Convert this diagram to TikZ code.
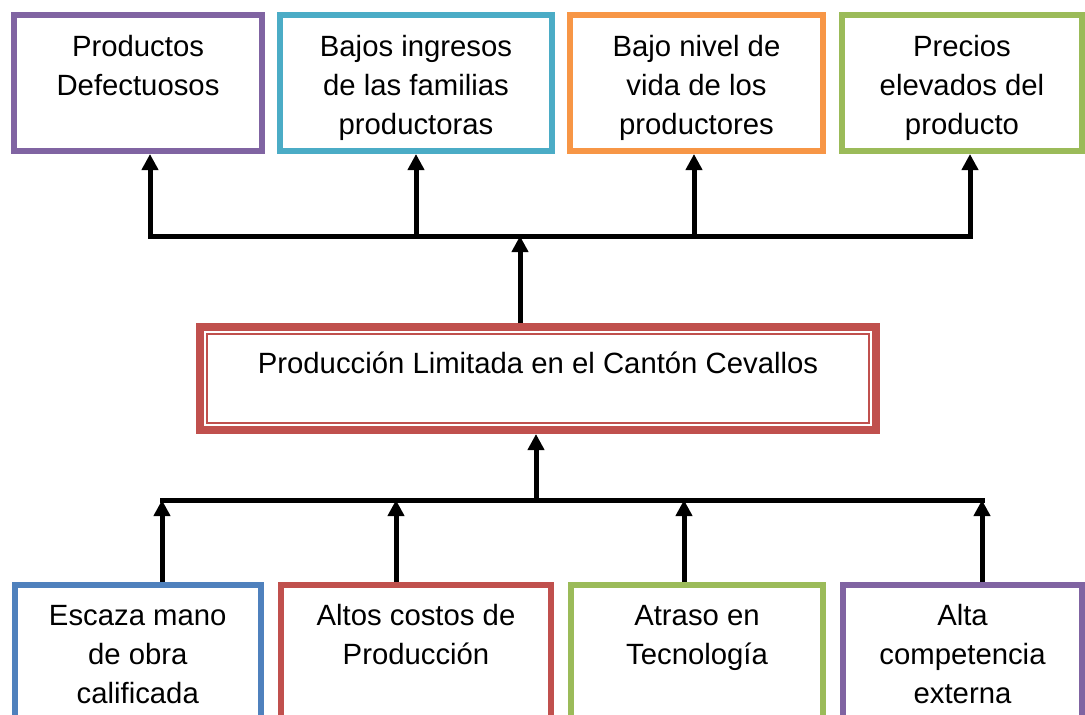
\documentclass[tikz,border=0pt]{standalone}
\usepackage{fontspec}
\setmainfont{Liberation Sans}
\usetikzlibrary{arrows.meta}
\definecolor{cpurple}{HTML}{8064A2}
\definecolor{cteal}{HTML}{4BACC6}
\definecolor{corange}{HTML}{F79646}
\definecolor{cgreen}{HTML}{9BBB59}
\definecolor{cred}{HTML}{C0504D}
\definecolor{cblue}{HTML}{4F81BD}
\begin{document}
\begin{tikzpicture}[x=1pt,y=-1pt,
  box/.style={draw=#1, line width=6pt, inner sep=0pt, rectangle},
  lbl/.style={anchor=north, align=center, inner sep=0pt, font=\fontsize{29.3}{39}\selectfont},
  conn/.style={line width=5pt, line cap=rect},
  arr/.style={line width=5pt, -{Triangle[width=16pt,length=16pt]}}]
\useasboundingbox (0,0) rectangle (1085,715);
\clip (0,0) rectangle (1085,715);
\fill[white] (0,0) rectangle (1085,715);
% top boxes
\node[box=cpurple, minimum width=248pt, minimum height=136pt] (t1) at (138,83) {};
\node[box=cteal,   minimum width=272pt, minimum height=136pt] (t2) at (416,83) {};
\node[box=corange, minimum width=253pt, minimum height=136pt] (t3) at (696.5,83) {};
\node[box=cgreen,  minimum width=240pt, minimum height=136pt] (t4) at (962,83) {};
\node[lbl] (t1l) at (138,28) {\rule{0pt}{28pt}Productos\\Defectuosos};
\node[lbl] (t2l) at (416,28) {\rule{0pt}{28pt}Bajos ingresos\\de las familias\\productoras};
\node[lbl] (t3l) at (696.5,28) {\rule{0pt}{28pt}Bajo nivel de\\vida de los\\productores};
\node[lbl] (t4l) at (962,28) {\rule{0pt}{28pt}Precios\\elevados del\\producto};
% center box
\node[box=cred, line width=8pt, minimum width=676pt, minimum height=103pt] (c) at (538,378.5) {};
\draw[cred, line width=1.6pt] ([shift={(11pt,-11pt)}]c.north west) rectangle ([shift={(-11pt,11pt)}]c.south east);
\node[lbl] (cl) at (538,345) {\rule{0pt}{28pt}Producción Limitada en el Cantón Cevallos};
% bottom boxes
\node[box=cblue,   minimum width=246.5pt, minimum height=230pt] (b1) at (137.75,700) {};
\node[box=cred,    minimum width=270pt,   minimum height=230pt] (b2) at (416,700) {};
\node[box=cgreen,  minimum width=252pt,   minimum height=230pt] (b3) at (697,700) {};
\node[box=cpurple, minimum width=239pt,   minimum height=230pt] (b4) at (962.5,700) {};
\node[lbl] (b1l) at (137.75,597) {\rule{0pt}{28pt}Escaza mano\\de obra\\calificada};
\node[lbl] (b2l) at (416,597) {\rule{0pt}{28pt}Altos costos de\\Producción};
\node[lbl] (b3l) at (697,597) {\rule{0pt}{28pt}Atraso en\\Tecnología};
\node[lbl] (b4l) at (962.5,597) {\rule{0pt}{28pt}Alta\\competencia\\externa};
% top connectors
\coordinate (ta) at (150,236);
\coordinate (tb) at (416,236);
\coordinate (tc) at (694,236);
\coordinate (td) at (970,236);
\coordinate (tm) at (520,236);
\draw[conn] (ta) -- (td);
\draw[arr] (ta) -- (ta |- t1.south);
\draw[arr] (tb) -- (tb |- t2.south);
\draw[arr] (tc) -- (tc |- t3.south);
\draw[arr] (td) -- (td |- t4.south);
\draw[arr] (tm |- c.north) -- (tm);
% bottom connectors
\coordinate (ba) at (162,500);
\coordinate (bb) at (396,500);
\coordinate (bc) at (684,500);
\coordinate (bd) at (982,500);
\coordinate (bm) at (536,500);
\draw[conn] (ba) -- (bd);
\draw[arr] (ba |- b1.north) -- (ba);
\draw[arr] (bb |- b2.north) -- (bb);
\draw[arr] (bc |- b3.north) -- (bc);
\draw[arr] (bd |- b4.north) -- (bd);
\draw[arr] (bm) -- (bm |- c.south);
\end{tikzpicture}
\end{document}
